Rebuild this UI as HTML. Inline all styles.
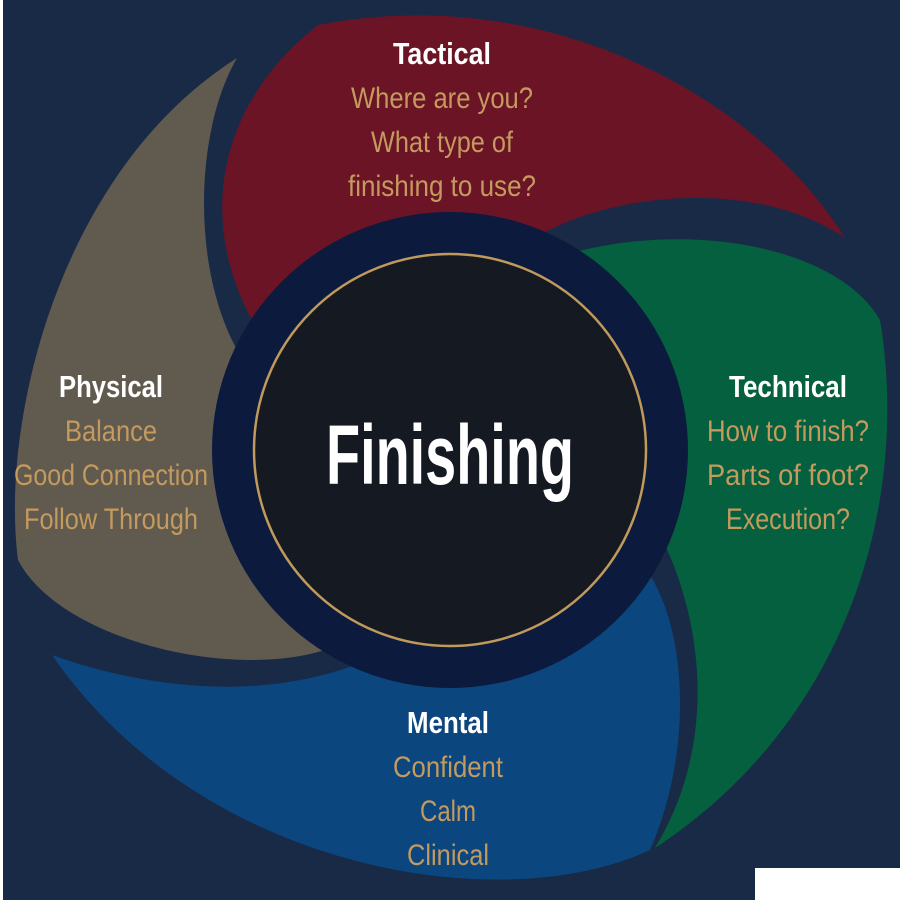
<!DOCTYPE html>
<html><head><style>
html,body{margin:0;padding:0;background:#fff}
svg{display:block}
text{font-family:"Liberation Sans Narrow","Liberation Sans",sans-serif;text-anchor:middle}
.h{fill:#fff;font-weight:bold;font-size:31px}
.g{fill:#c49a5e;font-size:30px}
</style></head><body>
<svg width="900" height="900" viewBox="0 0 900 900" xmlns="http://www.w3.org/2000/svg">
<rect x="0" y="0" width="900" height="900" fill="#192a47"/>
<rect x="0" y="0" width="3" height="900" fill="#fff"/>
<rect x="755" y="868" width="145" height="32" fill="#fff"/>
<path d="M318,25 C550,-20 760,100 845,238 C760,180 620,190 540,235 C420,220 300,260 255,325 C200,230 210,110 318,25 Z" fill="#6a1426"/>
<path d="M575,252 C700,220 840,250 880,320 C910,500 850,720 655,848 C720,740 700,620 665,545 C690,430 660,320 575,252 Z" fill="#04603f"/>
<path d="M52,655 C150,690 260,700 355,665 C480,690 590,650 650,575 C690,640 690,760 650,850 C500,920 200,870 52,655 Z" fill="#0c467e"/>
<path d="M237,58 C195,130 190,270 240,355 C215,440 235,580 325,650 C230,680 60,640 18,560 C0,420 60,170 237,58 Z" fill="#615a4f"/>
<circle cx="450" cy="450" r="238" fill="#0c1a3d"/>
<circle cx="450" cy="450" r="196" fill="#151922" stroke="#c09a5b" stroke-width="2.5"/>
<text x="450" y="484" fill="#fff" font-weight="bold" font-size="84" textLength="248" lengthAdjust="spacingAndGlyphs">Finishing</text>
<text class="h" x="442" y="64" textLength="98" lengthAdjust="spacingAndGlyphs">Tactical</text>
<text class="g" x="442" y="108" textLength="182" lengthAdjust="spacingAndGlyphs">Where are you?</text>
<text class="g" x="442" y="152" textLength="142" lengthAdjust="spacingAndGlyphs">What type of</text>
<text class="g" x="442" y="196" textLength="188" lengthAdjust="spacingAndGlyphs">finishing to use?</text>
<text class="h" x="111" y="397" textLength="104" lengthAdjust="spacingAndGlyphs">Physical</text>
<text class="g" x="111" y="441" textLength="92" lengthAdjust="spacingAndGlyphs">Balance</text>
<text class="g" x="111" y="485" textLength="194" lengthAdjust="spacingAndGlyphs">Good Connection</text>
<text class="g" x="111" y="529" textLength="174" lengthAdjust="spacingAndGlyphs">Follow Through</text>
<text class="h" x="788" y="397" textLength="118" lengthAdjust="spacingAndGlyphs">Technical</text>
<text class="g" x="788" y="441" textLength="162" lengthAdjust="spacingAndGlyphs">How to finish?</text>
<text class="g" x="788" y="485" textLength="162" lengthAdjust="spacingAndGlyphs">Parts of foot?</text>
<text class="g" x="788" y="529" textLength="124" lengthAdjust="spacingAndGlyphs">Execution?</text>
<text class="h" x="448" y="733" textLength="82" lengthAdjust="spacingAndGlyphs">Mental</text>
<text class="g" x="448" y="777" textLength="110" lengthAdjust="spacingAndGlyphs">Confident</text>
<text class="g" x="448" y="821" textLength="56" lengthAdjust="spacingAndGlyphs">Calm</text>
<text class="g" x="448" y="865" textLength="82" lengthAdjust="spacingAndGlyphs">Clinical</text>
</svg>
</body></html>
